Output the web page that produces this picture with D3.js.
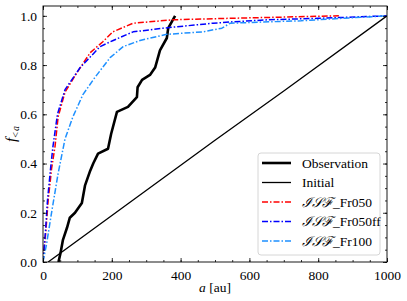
<!DOCTYPE html>
<html>
<head>
<meta charset="utf-8">
<script src="https://cdn.jsdelivr.net/npm/d3@7"></script>
<style>
  body { margin: 0; background: #fff; }
  svg text { font-family: 'Liberation Serif', serif !important; }
</style>
</head>
<body>
<div id="my_dataviz"></div>
<script>
// observed cumulative distribution
var obsA = [45, 51, 58, 70, 78, 93, 113, 122, 137, 146, 160, 189, 198, 215, 247, 273, 275, 288, 311, 326, 340, 360, 364, 384];
var obsF = [0, 0.037, 0.09, 0.14, 0.18, 0.2, 0.24, 0.31, 0.37, 0.40, 0.44, 0.46, 0.52, 0.61, 0.63, 0.67, 0.71, 0.74, 0.76, 0.79, 0.86, 0.91, 0.95, 1.0];

var initA = [15, 250, 500, 703, 1000];
var initF = [0, 0.24, 0.495, 0.698, 1.0];

var fr050A = [0, 8, 15, 25, 35, 44, 64, 99, 137, 174, 203, 262, 378, 544, 700, 860];
var fr050F = [0, 0.12, 0.25, 0.38, 0.47, 0.59, 0.69, 0.77, 0.85, 0.895, 0.935, 0.97, 0.984, 0.99, 0.995, 1.0];

var fr050ffA = [0, 7, 13, 22, 29, 42, 64, 108, 166, 204, 262, 349, 494, 544, 654, 800, 1000];
var fr050ffF = [0, 0.12, 0.25, 0.38, 0.47, 0.6, 0.70, 0.79, 0.875, 0.90, 0.935, 0.95, 0.97, 0.975, 0.984, 0.99, 1.0];

var fr100A = [0, 10, 18, 26, 44, 64, 87, 116, 151, 195, 233, 282, 360, 465, 520, 544, 640, 750, 870, 1000];
var fr100F = [0, 0.07, 0.14, 0.21, 0.36, 0.50, 0.59, 0.68, 0.75, 0.83, 0.875, 0.90, 0.925, 0.935, 0.95, 0.97, 0.975, 0.98, 0.99, 1.0];

var xTicks = [0, 200, 400, 600, 800, 1000];
var yTicks = [0, 0.2, 0.4, 0.6, 0.8, 1.0];

var fs = "13.5px";

var margin = {top: 6, right: 20, bottom: 39, left: 43},
    width = 407 - margin.left - margin.right,
    height = 301 - margin.top - margin.bottom;

var svg = d3.select("#my_dataviz")
  .append("svg")
    .attr("width", 407)
    .attr("height", 301)
  .append("g")
    .attr("transform", "translate(" + margin.left + "," + margin.top + ")");

var x = d3.scaleLinear().domain([0, 1000]).range([0, width]);
var y = d3.scaleLinear().domain([0, 1.04]).range([height, 0]);

svg.append("clipPath").attr("id", "clip")
  .append("rect").attr("width", width).attr("height", height);

function zip(a, f) { return a.map(function(v, i) { return [v, f[i]]; }); }

var line = d3.line()
  .x(function(d) { return x(d[0]); })
  .y(function(d) { return y(d[1]); });

var series = [
  {name: "Observation", data: zip(obsA, obsF), color: "#000", w: 2.6, dash: null},
  {name: "Initial", data: zip(initA, initF), color: "#000", w: 1.3, dash: null},
  {name: "Fr050", data: zip(fr050A, fr050F), color: "#ff0000", w: 1.5, dash: "6,2,1.5,2"},
  {name: "Fr050ff", data: zip(fr050ffA, fr050ffF), color: "#0000ff", w: 1.5, dash: "6,2,1.5,2"},
  {name: "Fr100", data: zip(fr100A, fr100F), color: "#1e90ff", w: 1.5, dash: "6,2,1.5,2"}
];

var plot = svg.append("g").attr("clip-path", "url(#clip)");
series.forEach(function(s) {
  plot.append("path")
    .datum(s.data)
    .attr("d", line)
    .attr("fill", "none")
    .attr("stroke", s.color)
    .attr("stroke-width", s.w)
    .attr("stroke-linejoin", "round")
    .attr("stroke-dasharray", s.dash);
});

// axes with inward ticks on all sides
function styleAxis(g) {
  g.attr("font-family", null);
  g.select(".domain").remove();
  g.selectAll(".tick line").attr("stroke", "#000").attr("stroke-width", 0.8);
  g.selectAll("text").attr("fill", "#000")
    .style("font-family", "Liberation Serif")
    .style("font-size", fs);
}
var xMinor = d3.range(0, 1001, 50), yMinor = d3.range(0, 1.04, 0.05);

svg.append("g").attr("transform", "translate(0," + height + ")")
  .call(d3.axisBottom(x).tickValues(xMinor).tickSize(-2).tickFormat(""))
  .call(styleAxis);
svg.append("g").attr("transform", "translate(0," + height + ")")
  .call(d3.axisBottom(x).tickValues(xTicks).tickSize(-4).tickPadding(8).tickFormat(d3.format("d")))
  .call(styleAxis);
svg.append("g")
  .call(d3.axisTop(x).tickValues(xMinor).tickSize(-2).tickFormat(""))
  .call(styleAxis);
svg.append("g")
  .call(d3.axisTop(x).tickValues(xTicks).tickSize(-4).tickFormat(""))
  .call(styleAxis);

svg.append("g")
  .call(d3.axisLeft(y).tickValues(yMinor).tickSize(-2).tickFormat(""))
  .call(styleAxis);
svg.append("g")
  .call(d3.axisLeft(y).tickValues(yTicks).tickSize(-4).tickPadding(6).tickFormat(d3.format(".1f")))
  .call(styleAxis);
svg.append("g").attr("transform", "translate(" + width + ",0)")
  .call(d3.axisRight(y).tickValues(yMinor).tickSize(-2).tickFormat(""))
  .call(styleAxis);
svg.append("g").attr("transform", "translate(" + width + ",0)")
  .call(d3.axisRight(y).tickValues(yTicks).tickSize(-4).tickFormat(""))
  .call(styleAxis);

svg.append("rect")
  .attr("width", width).attr("height", height)
  .attr("fill", "none").attr("stroke", "#000").attr("stroke-width", 0.9);

// axis labels
var xl = svg.append("text")
  .attr("x", width / 2).attr("y", height + 30)
  .attr("text-anchor", "middle")
  .style("font-family", "Liberation Serif")
  .style("font-size", fs);
xl.append("tspan").style("font-style", "italic").text("a");
xl.append("tspan").text(" [au]");

var yl = svg.append("text")
  .attr("transform", "translate(-27," + (height / 2) + ") rotate(-90)")
  .attr("text-anchor", "middle")
  .style("font-family", "Liberation Serif")
  .style("font-size", "15px");
yl.append("tspan").style("font-style", "italic").text("f");
yl.append("tspan").attr("dy", 3).style("font-size", "10px").text("<");
yl.append("tspan").attr("dx", 1).style("font-style", "italic").style("font-size", "10px").text("a");

// legend
var leg = svg.append("g").attr("transform", "translate(" + (258 - margin.left) + "," + (153 - margin.top) + ")");
leg.append("rect")
  .attr("width", 122).attr("height", 102).attr("rx", 3)
  .attr("fill", "#fff").attr("fill-opacity", 0.85)
  .attr("stroke", "#ccc").attr("stroke-width", 0.8);
series.forEach(function(s, i) {
  var cy = 10 + i * 19.5;
  leg.append("line")
    .attr("x1", 4).attr("x2", 33).attr("y1", cy).attr("y2", cy)
    .attr("stroke", s.color).attr("stroke-width", s.w)
    .attr("stroke-dasharray", s.dash);
  var t = leg.append("text").attr("x", 44).attr("y", cy + 4.5)
    .style("font-family", "Liberation Serif")
    .style("font-size", fs);
  if (i >= 2) {
    t.append("tspan").style("font-style", "italic").text("\u2110\uD835\uDCAE\u2131");
    t.append("tspan").text("_" + s.name);
  } else {
    t.text(s.name);
  }
});
</script>
</body>
</html>
